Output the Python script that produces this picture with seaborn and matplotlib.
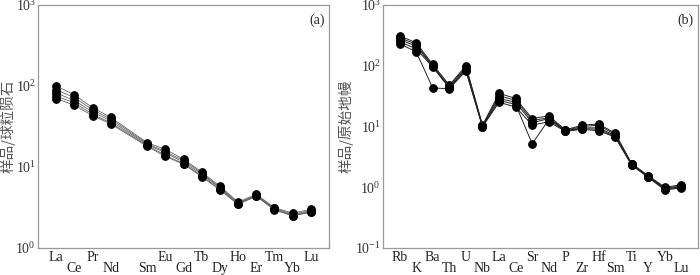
import numpy as np
import pandas as pd
import matplotlib
matplotlib.use('Agg')
import matplotlib.pyplot as plt
import seaborn as sns
from matplotlib.ticker import LogLocator, LogFormatterMathtext, NullLocator

sns.set_style('white')
plt.rcParams['font.family'] = ['Liberation Serif', 'Noto Sans CJK SC']
plt.rcParams['mathtext.fontset'] = 'stix'

# 稀土元素 (球粒陨石标准化), Pm 没有数据
ree = ['La', 'Ce', 'Pr', 'Nd', 'Pm', 'Sm', 'Eu', 'Gd', 'Tb', 'Dy', 'Ho', 'Er', 'Tm', 'Yb', 'Lu']
ree_labels = ['La', 'Ce', 'Pr', 'Nd', '', 'Sm', 'Eu', 'Gd', 'Tb', 'Dy', 'Ho', 'Er', 'Tm', 'Yb', 'Lu']
ree_s1 = [100, 78, 54, 41, None, 20.0, 16.5, 12.5, 8.7, 5.8, 3.70, 4.60, 3.15, 2.70, 3.00]
ree_s2 = [90, 72, 51, 39, None, 19.5, 15.5, 12.0, 8.4, 5.6, 3.60, 4.50, 3.10, 2.60, 2.90]
ree_s3 = [82, 66, 48, 37, None, 19.0, 15.0, 11.5, 8.1, 5.5, 3.55, 4.45, 3.05, 2.55, 2.85]
ree_s4 = [75, 62, 45, 35, None, 18.5, 14.0, 11.0, 7.8, 5.3, 3.50, 4.40, 3.00, 2.50, 2.80]
ree_s5 = [70, 58, 43, 34, None, 18.0, 13.5, 10.8, 7.6, 5.2, 3.45, 4.35, 2.95, 2.50, 2.75]

# 微量元素 (原始地幔标准化)
tre = ['Rb', 'K', 'Ba', 'Th', 'U', 'Nb', 'La', 'Ce', 'Sr', 'Nd', 'P', 'Zr', 'Hf', 'Sm', 'Ti', 'Y', 'Yb', 'Lu']
tre_s1 = [310, 240, 105, 48, 100, 10.5, 35, 29, 13.5, 15.0, 8.8, 10.5, 11.0, 7.8, 2.45, 1.55, 1.00, 1.10]
tre_s2 = [290, 225, 100, 46, 95, 10.3, 32, 27, 12.5, 14.0, 8.6, 10.0, 10.5, 7.4, 2.40, 1.52, 0.97, 1.05]
tre_s3 = [270, 210, 98, 44, 90, 10.2, 29, 25, 11.5, 13.5, 8.5, 9.5, 9.5, 7.1, 2.38, 1.50, 0.94, 1.02]
tre_s4 = [250, 190, 95, 43, 85, 10.0, 27, 23, 5.2, 13.0, 8.4, 9.2, 9.0, 6.9, 2.35, 1.48, 0.92, 1.00]
tre_s5 = [230, 170, 43, 42, 82, 9.9, 25, 21, 10.5, 12.0, 8.3, 9.0, 8.5, 6.7, 2.30, 1.45, 0.90, 0.98]


def to_long(elements, samples):
    rows = []
    for k, vals in enumerate(samples):
        for i, v in enumerate(vals):
            if v is not None:
                rows.append({'sample': k, 'pos': i + 1, 'value': v})
    return pd.DataFrame(rows)


df_a = to_long(ree, [ree_s1, ree_s2, ree_s3, ree_s4, ree_s5])
df_b = to_long(tre, [tre_s1, tre_s2, tre_s3, tre_s4, tre_s5])

fig = plt.figure(figsize=(7, 2.75), dpi=100)
ax1 = fig.add_axes([38/700, 27/275, 291/700, 243/275])
ax2 = fig.add_axes([383/700, 27/275, 315/700, 243/275])


def style_axis(ax, labels, ylo, yhi, ylabel, tag, label_x):
    ax.set_yscale('log')
    ax.set_ylim(ylo, yhi)
    ax.set_xlim(0, len(labels) + 1)
    ax.set_xticks(range(1, len(labels) + 1))
    ax.set_xticklabels([('\n' + t) if i % 2 else t for i, t in enumerate(labels)],
                       fontsize=9, linespacing=0.85)
    ax.yaxis.set_major_locator(LogLocator(base=10, numticks=10))
    ax.yaxis.set_major_formatter(LogFormatterMathtext())
    ax.yaxis.set_minor_locator(NullLocator())
    ax.tick_params(axis='both', direction='in', length=5, width=0.8, color='#333333',
                   labelsize=10, pad=2)
    ax.tick_params(axis='y', length=6, labelsize=10, labelcolor='#333333', pad=1.5)
    ax.tick_params(axis='x', labelcolor='#222222')
    for s in ax.spines.values():
        s.set_color('#999999')
        s.set_linewidth(0.9)
    ax.set_xlabel('')
    ax.set_ylabel(ylabel, family=['Noto Sans CJK SC'], fontsize=10.5, color='#555555')
    ax.yaxis.set_label_coords(label_x, 0.5)
    ax.text(0.985, 0.965, tag, transform=ax.transAxes, ha='right', va='top', fontsize=10)
    ax.grid(False)


sns.lineplot(data=df_a, x='pos', y='value', units='sample', estimator=None, ax=ax1,
             color='#666666', linewidth=0.6, marker='o', markersize=5.5,
             markerfacecolor='black', markeredgecolor='black', legend=False)
sns.lineplot(data=df_b, x='pos', y='value', units='sample', estimator=None, ax=ax2,
             color='#222222', linewidth=0.7, marker='o', markersize=5.5,
             markerfacecolor='black', markeredgecolor='black', legend=False)

style_axis(ax1, ree_labels, 1, 1000, '样品/球粒陨石', '(a)', (16 - 38) / 291)
style_axis(ax2, tre, 0.1, 1000, '样品/原始地幔', '(b)', (354 - 383) / 315)

fig.savefig('out.png', dpi=100)
